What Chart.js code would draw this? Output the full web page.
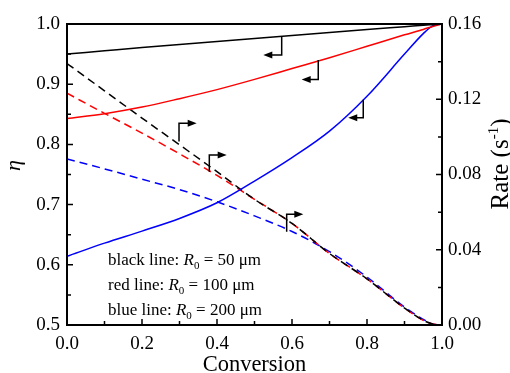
<!DOCTYPE html>
<html lang="en">
<head>
<meta charset="UTF-8">
<title>Effectiveness factor and rate vs conversion</title>
<script src="https://cdn.jsdelivr.net/npm/chart.js"></script>
<style>
    html, body { margin: 0; padding: 0; background: #fff; }
    #wrap { width: 510px; height: 373px; position: relative; }
</style>
</head>
<body>
<div id="wrap"><canvas id="chart"></canvas></div>
<script>
// conversion points shared by every curve
const conversion = [0, 0.1, 0.2, 0.3, 0.4, 0.5, 0.6, 0.7, 0.8, 0.9, 0.95, 0.975, 1.0];

// effectiveness factor, left axis (solid lines)
const etaBlack = [0.950, 0.9555, 0.961, 0.966, 0.971, 0.976, 0.981, 0.986, 0.991, 0.9955, 0.9978, 0.9989, 1.0];
const etaRed   = [0.843, 0.851, 0.862, 0.876, 0.891, 0.908, 0.926, 0.944, 0.963, 0.982, 0.991, 0.996, 1.0];
const etaBlue  = [0.614, 0.636, 0.656, 0.677, 0.703, 0.739, 0.778, 0.822, 0.880, 0.950, 0.984, 0.997, 1.0];

// rate in s^-1, right axis (dashed lines)
const rateBlack = [0.139, 0.1245, 0.110, 0.0958, 0.0815, 0.0668, 0.054, 0.038, 0.0245, 0.009, 0.0025, 0.0006, 0];
const rateRed   = [0.1232, 0.1125, 0.102, 0.091, 0.0795, 0.0668, 0.054, 0.038, 0.0245, 0.009, 0.0025, 0.0006, 0];
const rateBlue  = [0.0883, 0.083, 0.0775, 0.072, 0.0655, 0.058, 0.0497, 0.039, 0.0255, 0.0095, 0.003, 0.0005, 0];

const xTicks = [0, 0.2, 0.4, 0.6, 0.8, 1.0];
const etaTicks = [0.5, 0.6, 0.7, 0.8, 0.9, 1.0];
const rateTicks = [0, 0.04, 0.08, 0.12, 0.16];

const legendNames = ['black line: ', 'red line: ', 'blue line: '];
const legendRadii = ['50', '100', '200'];

// arrow markers in data units: [stem conversion, stem start, bend value, tip conversion]
const etaArrows = [
    [0.5725, 0.979, 0.9485, 0.5235],
    [0.670, 0.940, 0.908, 0.6258],
    [0.790, 0.874, 0.8444, 0.750]
];
const rateArrows = [
    [0.2987, 0.0975, 0.1072, 0.3458],
    [0.3795, 0.0815, 0.0904, 0.4258],
    [0.5858, 0.0496, 0.0589, 0.6302]
];

const SERIF = "'Liberation Serif', 'Times New Roman', serif";
Chart.defaults.font.family = SERIF;

function pts(ys) {
    return conversion.map((c, i) => ({ x: c, y: ys[i] }));
}

function solid(label, color, ys) {
    return { label, data: pts(ys), yAxisID: 'y', borderColor: color, borderWidth: 1.5,
             pointRadius: 0, cubicInterpolationMode: 'monotone', fill: false };
}
function dashed(label, color, ys) {
    return { label, data: pts(ys), yAxisID: 'y1', borderColor: color, borderWidth: 1.5,
             borderDash: [8, 5], pointRadius: 0, cubicInterpolationMode: 'monotone', fill: false };
}

function minorOf(list) {
    const out = [];
    for (let i = 0; i < list.length - 1; i++) out.push((list[i] + list[i + 1]) / 2);
    return out;
}

function arrowHead(ctx, x, y, dir) {
    ctx.beginPath();
    ctx.moveTo(x, y);
    ctx.lineTo(x - dir * 9, y - 3.5);
    ctx.lineTo(x - dir * 9, y + 3.5);
    ctx.closePath();
    ctx.fill();
}

const decorPlugin = {
    id: 'decor',
    afterDatasetsDraw(chart) {
        const ctx = chart.ctx;
        const { left, right, top, bottom } = chart.chartArea;
        const sx = chart.scales.x, sy = chart.scales.y, sr = chart.scales.y1;
        ctx.save();
        ctx.strokeStyle = '#000';
        ctx.fillStyle = '#000';

        // frame
        ctx.lineWidth = 2;
        ctx.strokeRect(left, top, right - left, bottom - top);

        // inward ticks
        ctx.lineWidth = 1.5;
        ctx.beginPath();
        xTicks.forEach(v => { const p = sx.getPixelForValue(v); ctx.moveTo(p, bottom); ctx.lineTo(p, bottom - 6); });
        minorOf(xTicks).forEach(v => { const p = sx.getPixelForValue(v); ctx.moveTo(p, bottom); ctx.lineTo(p, bottom - 4); });
        etaTicks.forEach(v => { const p = sy.getPixelForValue(v); ctx.moveTo(left, p); ctx.lineTo(left + 6, p); });
        minorOf(etaTicks).forEach(v => { const p = sy.getPixelForValue(v); ctx.moveTo(left, p); ctx.lineTo(left + 4, p); });
        rateTicks.forEach(v => { const p = sr.getPixelForValue(v); ctx.moveTo(right, p); ctx.lineTo(right - 6, p); });
        minorOf(rateTicks).forEach(v => { const p = sr.getPixelForValue(v); ctx.moveTo(right, p); ctx.lineTo(right - 4, p); });
        ctx.stroke();

        // arrows: left-pointing for eta curves, right-pointing for rate curves
        ctx.lineWidth = 1.5;
        const drawArrows = (list, scale, dir) => {
            list.forEach(a => {
                const x0 = sx.getPixelForValue(a[0]);
                const y0 = scale.getPixelForValue(a[1]);
                const y1 = scale.getPixelForValue(a[2]);
                const xt = sx.getPixelForValue(a[3]);
                ctx.beginPath();
                ctx.moveTo(x0, y0);
                ctx.lineTo(x0, y1);
                ctx.lineTo(xt - dir * 8, y1);
                ctx.stroke();
                arrowHead(ctx, xt, y1, dir);
            });
        };
        drawArrows(etaArrows, sy, -1);
        drawArrows(rateArrows, sr, 1);

        // legend text
        ctx.textAlign = 'left';
        ctx.textBaseline = 'alphabetic';
        legendNames.forEach((name, i) => {
            let x = 108;
            const y = 265 + i * 25;
            ctx.font = '17px ' + SERIF;
            ctx.fillText(name, x, y);
            x += ctx.measureText(name).width;
            ctx.font = 'italic 17px ' + SERIF;
            ctx.fillText('R', x, y);
            x += ctx.measureText('R').width;
            ctx.font = '11px ' + SERIF;
            ctx.fillText('0', x, y + 4);
            x += ctx.measureText('0').width;
            ctx.font = '17px ' + SERIF;
            ctx.fillText(' = ' + legendRadii[i] + ' \u03bcm', x, y);
        });

        // axis titles
        ctx.font = '22.5px ' + SERIF;
        ctx.textAlign = 'center';
        ctx.fillText('Conversion', (left + right) / 2, 371);

        ctx.save();
        ctx.translate(20, 165.5);
        ctx.rotate(-Math.PI / 2);
        ctx.font = 'italic 22px ' + SERIF;
        ctx.fillText('\u03b7', 0, 0);
        ctx.restore();

        ctx.save();
        ctx.translate(508, 164);
        ctx.rotate(-Math.PI / 2);
        ctx.textAlign = 'left';
        const big = '25px ' + SERIF, small = '15px ' + SERIF;
        ctx.font = big;
        const w1 = ctx.measureText('Rate (s').width;
        const w3 = ctx.measureText(')').width;
        ctx.font = small;
        const w2 = ctx.measureText('-1').width;
        let x = -(w1 + w2 + w3) / 2;
        ctx.font = big;
        ctx.fillText('Rate (s', x, 0);
        x += w1;
        ctx.font = small;
        ctx.fillText('-1', x, -10);
        x += w2;
        ctx.font = big;
        ctx.fillText(')', x, 0);
        ctx.restore();

        ctx.restore();
    }
};

const tickFont = { family: SERIF, size: 19 };

new Chart(document.getElementById('chart'), {
    type: 'line',
    data: {
        datasets: [
            solid('eta R0=50', '#000000', etaBlack),
            solid('eta R0=100', '#ff0000', etaRed),
            solid('eta R0=200', '#0000ff', etaBlue),
            dashed('rate R0=50', '#000000', rateBlack),
            dashed('rate R0=100', '#ff0000', rateRed),
            dashed('rate R0=200', '#0000ff', rateBlue)
        ]
    },
    options: {
        responsive: true,
        maintainAspectRatio: false,
        devicePixelRatio: 1,
        animation: false,
        events: [],
        layout: { padding: { top: 24, left: 0, right: 0, bottom: 0 } },
        plugins: { legend: { display: false }, tooltip: { enabled: false } },
        scales: {
            x: {
                type: 'linear', min: 0, max: 1,
                afterBuildTicks: s => { s.ticks = xTicks.map(v => ({ value: v })); },
                afterFit: s => { s.height = 48; },
                grid: { display: false, drawTicks: false },
                border: { display: false },
                ticks: { font: tickFont, color: '#000', padding: 8, maxRotation: 0,
                         callback: v => v.toFixed(1) }
            },
            y: {
                position: 'left', min: 0.5, max: 1.0,
                afterBuildTicks: s => { s.ticks = etaTicks.map(v => ({ value: v })); },
                afterFit: s => { s.width = 67; },
                grid: { display: false, drawTicks: false },
                border: { display: false },
                ticks: { font: tickFont, color: '#000', padding: 7, callback: v => v.toFixed(1) }
            },
            y1: {
                position: 'right', min: 0, max: 0.16,
                afterBuildTicks: s => { s.ticks = rateTicks.map(v => ({ value: v })); },
                afterFit: s => { s.width = 68; },
                grid: { display: false, drawTicks: false },
                border: { display: false },
                ticks: { font: tickFont, color: '#000', padding: 6, callback: v => v.toFixed(2) }
            }
        }
    },
    plugins: [decorPlugin]
});
</script>
</body>
</html>
